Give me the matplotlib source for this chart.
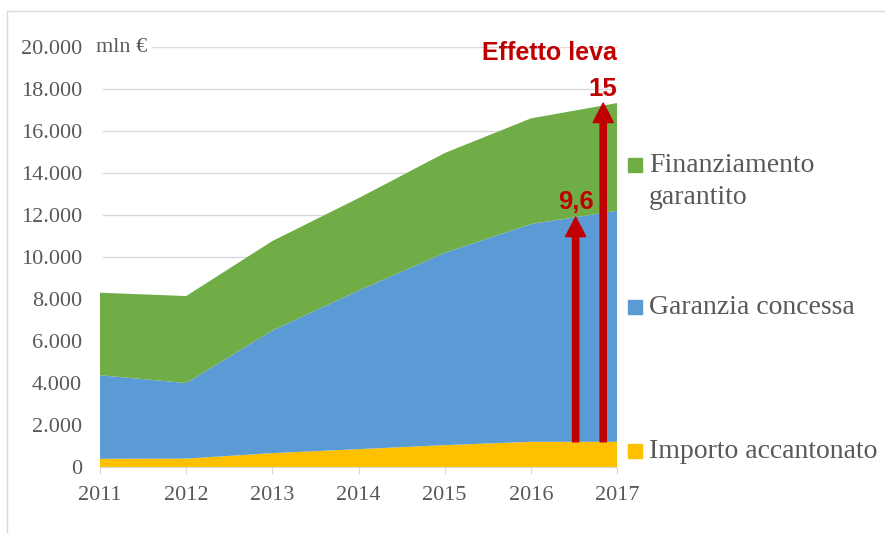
import numpy as np
import matplotlib.pyplot as plt
from matplotlib.patches import Rectangle

years = [2011, 2012, 2013, 2014, 2015, 2016, 2017]
importo = [390, 400, 660, 850, 1040, 1200, 1200]
garanzia = [3980, 3600, 5840, 7550, 9160, 10370, 11000]
finanziamento = [3930, 4140, 4260, 4400, 4750, 5030, 5130]
series_names = ['Importo accantonato', 'Garanzia concessa', 'Finanziamento\ngarantito']
colors = ['#FFC000', '#5B9BD5', '#70AD47']
yticks = np.arange(0, 20001, 2000)
leva_labels = ['9,6', '15']

GRAY = '#595959'
RED = '#C00000'
SERIF = 'Liberation Serif'

fig = plt.figure(figsize=(8.85, 5.33), dpi=100)
ax = fig.add_axes([100 / 885, 66 / 533, 517 / 885, 420 / 533])

ax.stackplot(years, importo, garanzia, finanziamento, colors=colors, zorder=2)

ax.set_xlim(2011, 2017)
ax.set_ylim(0, 20000)
ax.set_yticks(yticks)
ax.set_yticklabels(['{:,}'.format(v).replace(',', '.') for v in yticks],
                   fontfamily=SERIF, fontsize=16, color=GRAY)
ax.set_xticks(years)
ax.set_xticklabels([str(y) for y in years], fontfamily=SERIF, fontsize=16, color=GRAY)
ax.tick_params(axis='y', length=0, pad=13)
ax.tick_params(axis='x', length=5, color='#D9D9D9', pad=9, direction='out')
for s in ['top', 'right', 'left']:
    ax.spines[s].set_visible(False)
ax.spines['bottom'].set_color('#D9D9D9')
ax.spines['bottom'].set_zorder(3)

# gridlines
for v in yticks[1:]:
    x0 = 0.1 if v == yticks[-1] else 0.005
    ax.plot([x0, 1], [v, v], transform=ax.get_yaxis_transform(),
            color='#D9D9D9', lw=1, zorder=1)
ax.text(-0.008, yticks[-1], 'mln €', fontfamily=SERIF, fontsize=16, color=GRAY,
        ha='left', va='center', transform=ax.get_yaxis_transform())

# leverage arrows
yellow_top = np.array(importo)
blue_top = yellow_top + np.array(garanzia)
total = blue_top + np.array(finanziamento)
arrow_x = [2016.52, 2016.84]
arrow_tops = [np.interp(arrow_x[0], years, blue_top), total[-1]]
for xa, yt, lab, off in zip(arrow_x, arrow_tops, leva_labels, [2, 1.5]):
    ax.annotate('', xy=(xa, yt), xytext=(xa, yellow_top[-1]),
                arrowprops=dict(width=4.5, headwidth=14.5, headlength=14,
                                shrink=0, color=RED), zorder=4)
    ax.annotate(lab, xy=(xa, yt), xytext=(0, off), textcoords='offset points',
                ha='center', va='bottom', fontsize=18.5, fontweight='bold',
                fontfamily='Liberation Sans', color=RED)
ax.text(2016.22, 19700, 'Effetto leva', ha='center', va='center', fontsize=18,
        fontweight='bold', fontfamily='Liberation Sans', color=RED)

# legend
leg_y = [451, 307, 165]
for name, c, yy in zip(series_names, colors, leg_y):
    fy = 1 - yy / 533
    fig.patches.append(Rectangle((628 / 885, fy - 7 / 533), 14 / 885, 14 / 533,
                                 transform=fig.transFigure, color=c))
    for i, line in enumerate(name.split('\n')):
        fig.text(649 / 885, fy - (7 + 32 * i) / 533, line, fontfamily=SERIF,
                 fontsize=20, color=GRAY, ha='left', va='baseline')

# chart border (top and left visible)
fig.patches.append(Rectangle((7 / 885, -0.1), 1.2, 1.1 - 11 / 533,
                             transform=fig.transFigure, fill=False,
                             edgecolor='#D9D9D9', lw=1))

fig.savefig('out.png', dpi=100)
